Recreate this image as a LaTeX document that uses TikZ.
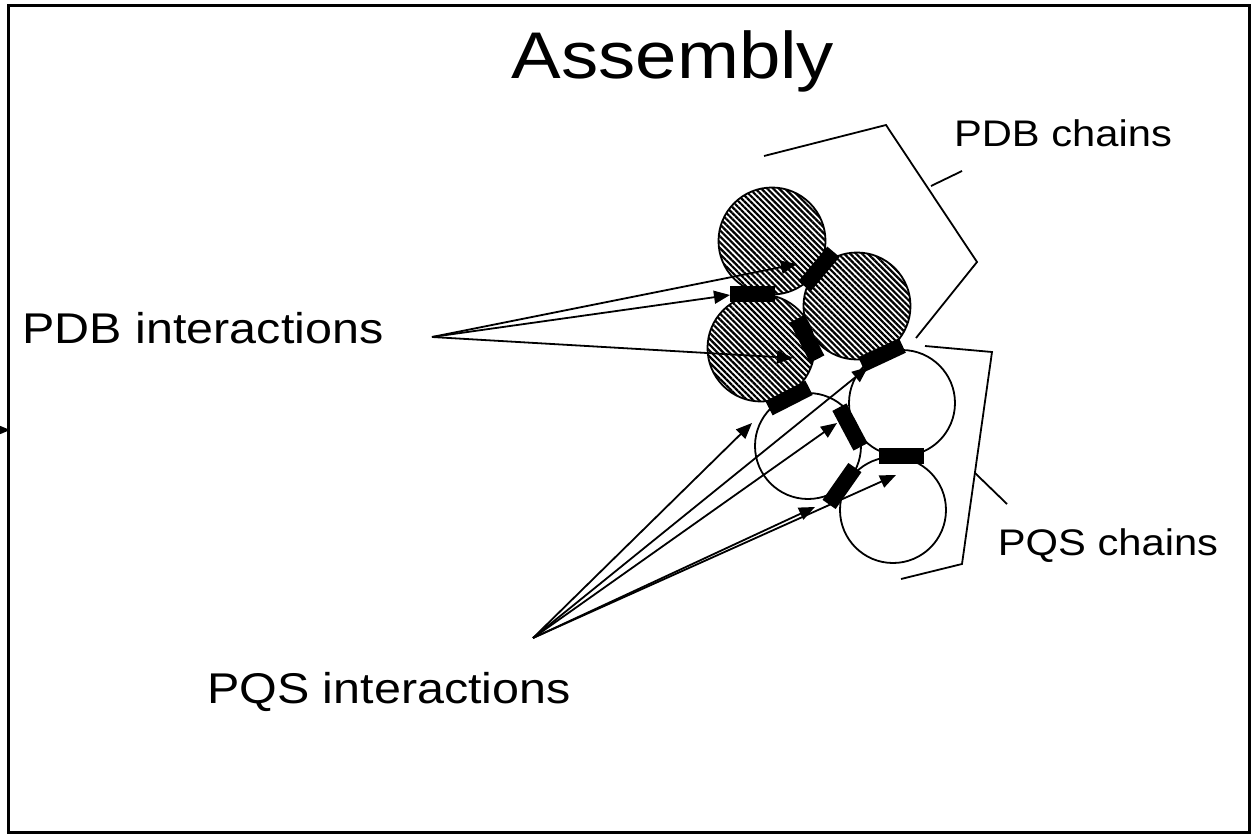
\documentclass[tikz,border=0pt]{standalone}
\usepackage{fontspec}
\setmainfont{Liberation Sans}
\usetikzlibrary{arrows.meta,patterns.meta}

\begin{document}
\begin{tikzpicture}[x=1bp, y=-1bp]
    \tikzstyle{pdbchain} = [circle, draw, line width=1.8bp, inner sep=0pt, minimum size=107bp, pattern={Lines[angle=-45, distance=4.2bp, line width=2.2bp]}]
    \tikzstyle{pqschain} = [circle, draw, line width=1.8bp, inner sep=0pt, minimum size=106bp]
    \tikzstyle{bond} = [rectangle, fill=black, inner sep=0pt, minimum width=45bp, minimum height=16bp]
    \tikzstyle{pointer} = [line width=1.8bp, -{Triangle[length=16bp, width=13bp]}]
    \tikzstyle{bracket} = [line width=1.8bp]
    \tikzstyle{caption} = [inner sep=0pt, anchor=base, xscale=1.127]

    \useasboundingbox (0,0) rectangle (1255,835);

    % Frame
    \draw[line width=3bp] (8,5) rectangle (1249,832);
    \coordinate (offleft) at (-8,430);
    \coordinate (edge) at (10,430);
    \draw[pointer] (offleft) -- (edge);

    % Texts
    \node[caption, font=\fontsize{66bp}{78bp}\selectfont] (title) at (673,78) {Assembly};
    \node[caption, font=\fontsize{43bp}{50bp}\selectfont] (pdbint) at (203,343) {PDB interactions};
    \node[caption, font=\fontsize{43bp}{50bp}\selectfont] (pqsint) at (389,703) {PQS interactions};
    \node[caption, font=\fontsize{37bp}{44bp}\selectfont] (pdbtxt) at (1063,146) {PDB chains};
    \node[caption, font=\fontsize{37bp}{44bp}\selectfont] (pqstxt) at (1108,555) {PQS chains};

    % Chains
    \node[pdbchain] (c1) at (772,241) {};
    \node[pdbchain] (c2) at (761,348) {};
    \node[pdbchain] (c3) at (857,306) {};
    \node[pqschain] (c4) at (808,446) {};
    \node[pqschain] (c5) at (902,403) {};
    \node[pqschain] (c6) at (893,510) {};

    % Brackets
    \coordinate (b1) at (764,156);
    \coordinate (b2) at (886,125);
    \coordinate (b3) at (977,262);
    \coordinate (b4) at (916,338);
    \coordinate (t1) at (931,186);
    \coordinate (t2) at (962,171);
    \draw[bracket] (b1) -- (b2) -- (b3) -- (b4);
    \draw[bracket] (t1) -- (t2);
    \coordinate (q1) at (925,346);
    \coordinate (q2) at (992,352);
    \coordinate (q3) at (962,564);
    \coordinate (q4) at (901,579);
    \coordinate (s1) at (975,473);
    \coordinate (s2) at (1007,504);
    \draw[bracket] (q1) -- (q2) -- (q3) -- (q4);
    \draw[bracket] (s1) -- (s2);

    % Arrows
    \coordinate (pdbfan) at (432,337);
    \coordinate (pdb1) at (797,264);
    \coordinate (pdb2) at (730,295);
    \coordinate (pdb3) at (793,358);
    \foreach \t in {pdb1,pdb2,pdb3}
        \draw[pointer] (pdbfan) -- (\t);
    \coordinate (pqsfan) at (533,638);
    \coordinate (pqs1) at (752,423);
    \coordinate (pqs2) at (868,367);
    \coordinate (pqs3) at (837,423);
    \coordinate (pqs4) at (815,507);
    \coordinate (pqs5) at (896,475);
    \foreach \t in {pqs1,pqs2,pqs3,pqs4,pqs5}
        \draw[pointer] (pqsfan) -- (\t);

    % Interactions
    \node[bond] (i1) at (752,294) {};
    \node[bond, rotate=50] (i2) at (819,269) {};
    \node[bond, rotate=-63] (i3) at (807,339) {};
    \node[bond, rotate=27] (i4) at (789,398) {};
    \node[bond, rotate=25] (i5) at (882,355) {};
    \node[bond, rotate=-62] (i6) at (850,427) {};
    \node[bond] (i7) at (901,456) {};
    \node[bond, rotate=55] (i8) at (842,486) {};

\end{tikzpicture}
\end{document}
